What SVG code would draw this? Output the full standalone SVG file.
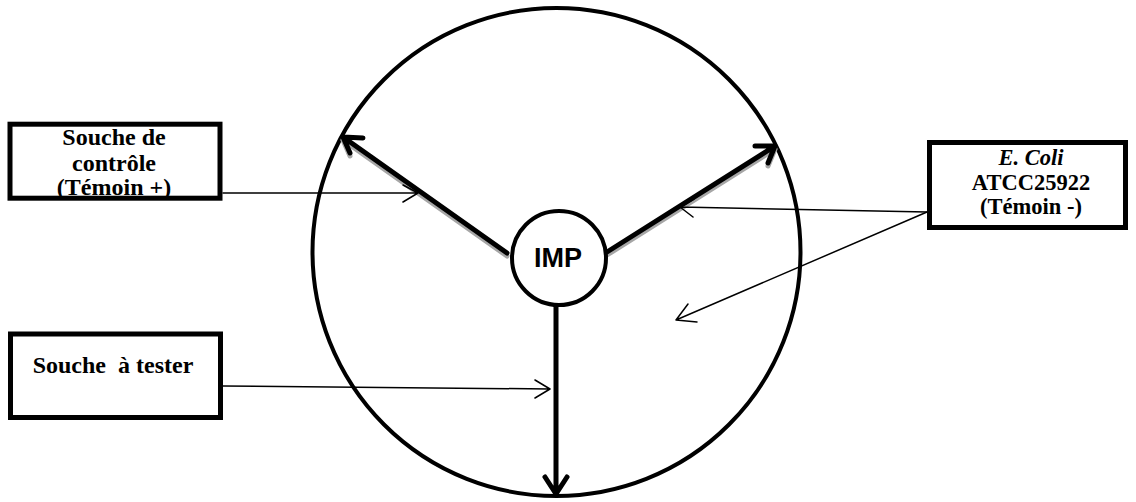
<svg xmlns="http://www.w3.org/2000/svg" width="1136" height="502" viewBox="0 0 1136 502">
<style>
.box{fill:#fff;stroke:#000;stroke-width:5}
.t{font-family:"Liberation Serif","Times New Roman",serif;font-weight:bold;font-size:24px;fill:#000;text-anchor:middle}
.e{font-size:22.5px}
.thin{fill:none;stroke:#000;stroke-width:1.5;stroke-linecap:round;stroke-linejoin:round}
.thick{fill:none;stroke:#000;stroke-width:5;stroke-linecap:round;stroke-linejoin:round}
.shadow{fill:none;stroke:#a6a6a6;stroke-width:5;stroke-linecap:round;stroke-linejoin:round}
</style>
<rect width="1136" height="502" fill="#fff"/>
<g id="plate">
<circle cx="556.5" cy="252" r="244" fill="none" stroke="#000" stroke-width="4"/>
</g>
<g id="connectors">
<g transform="translate(0,3)">
<path class="shadow" d="M507,253 L343,137 M343,137 L350,153"/>
<path class="shadow" d="M607,252 L775,146 M775,146 L768,163"/>
</g>
<path class="thick" d="M507,253 L343,137 M343,137 L363,138 M343,137 L350,153"/>
<path class="thick" d="M607,252 L775,146 M775,146 L755,146 M775,146 L768,163"/>
<path class="thick" d="M556,306 L556,494 M556,494 L545,477 M556,494 L567,477"/>
<path class="thin" d="M223,193 L418,193 M418,193 L403,185 M418,193 L403,202"/>
<path class="thin" d="M223,386 L550,389 M550,389 L535,380 M550,389 L535,398"/>
<path class="thin" d="M927,212 L680,207 M680,207 L694,199 M680,207 L693,217"/>
<path class="thin" d="M927,212 L676,320 M676,320 L688,304 M676,320 L697,322"/>
</g>
<g id="imp">
<circle cx="559" cy="258" r="47" fill="#fff" stroke="#000" stroke-width="4"/>
<text x="558" y="267" font-family="Liberation Sans, Arial, sans-serif" font-weight="bold" font-size="27" text-anchor="middle">IMP</text>
</g>
<g id="controle">
<rect class="box" x="10" y="124.2" width="210" height="74"/>
<text class="t" x="114" y="145">Souche de</text>
<text class="t" x="114" y="171">contrôle</text>
<text class="t" x="114" y="195">(Témoin +)</text>
</g>
<g id="tester">
<rect class="box" x="10.5" y="334" width="210" height="83.5"/>
<text class="t" x="113" y="373" xml:space="preserve">Souche  à tester</text>
</g>
<g id="ecoli">
<rect class="box" x="929.5" y="142.5" width="196" height="85"/>
<text class="t e" x="1031" y="165" font-style="italic">E. Coli</text>
<text class="t e" x="1031" y="190">ATCC25922</text>
<text class="t e" x="1031" y="214">(Témoin -)</text>
</g>
</svg>
